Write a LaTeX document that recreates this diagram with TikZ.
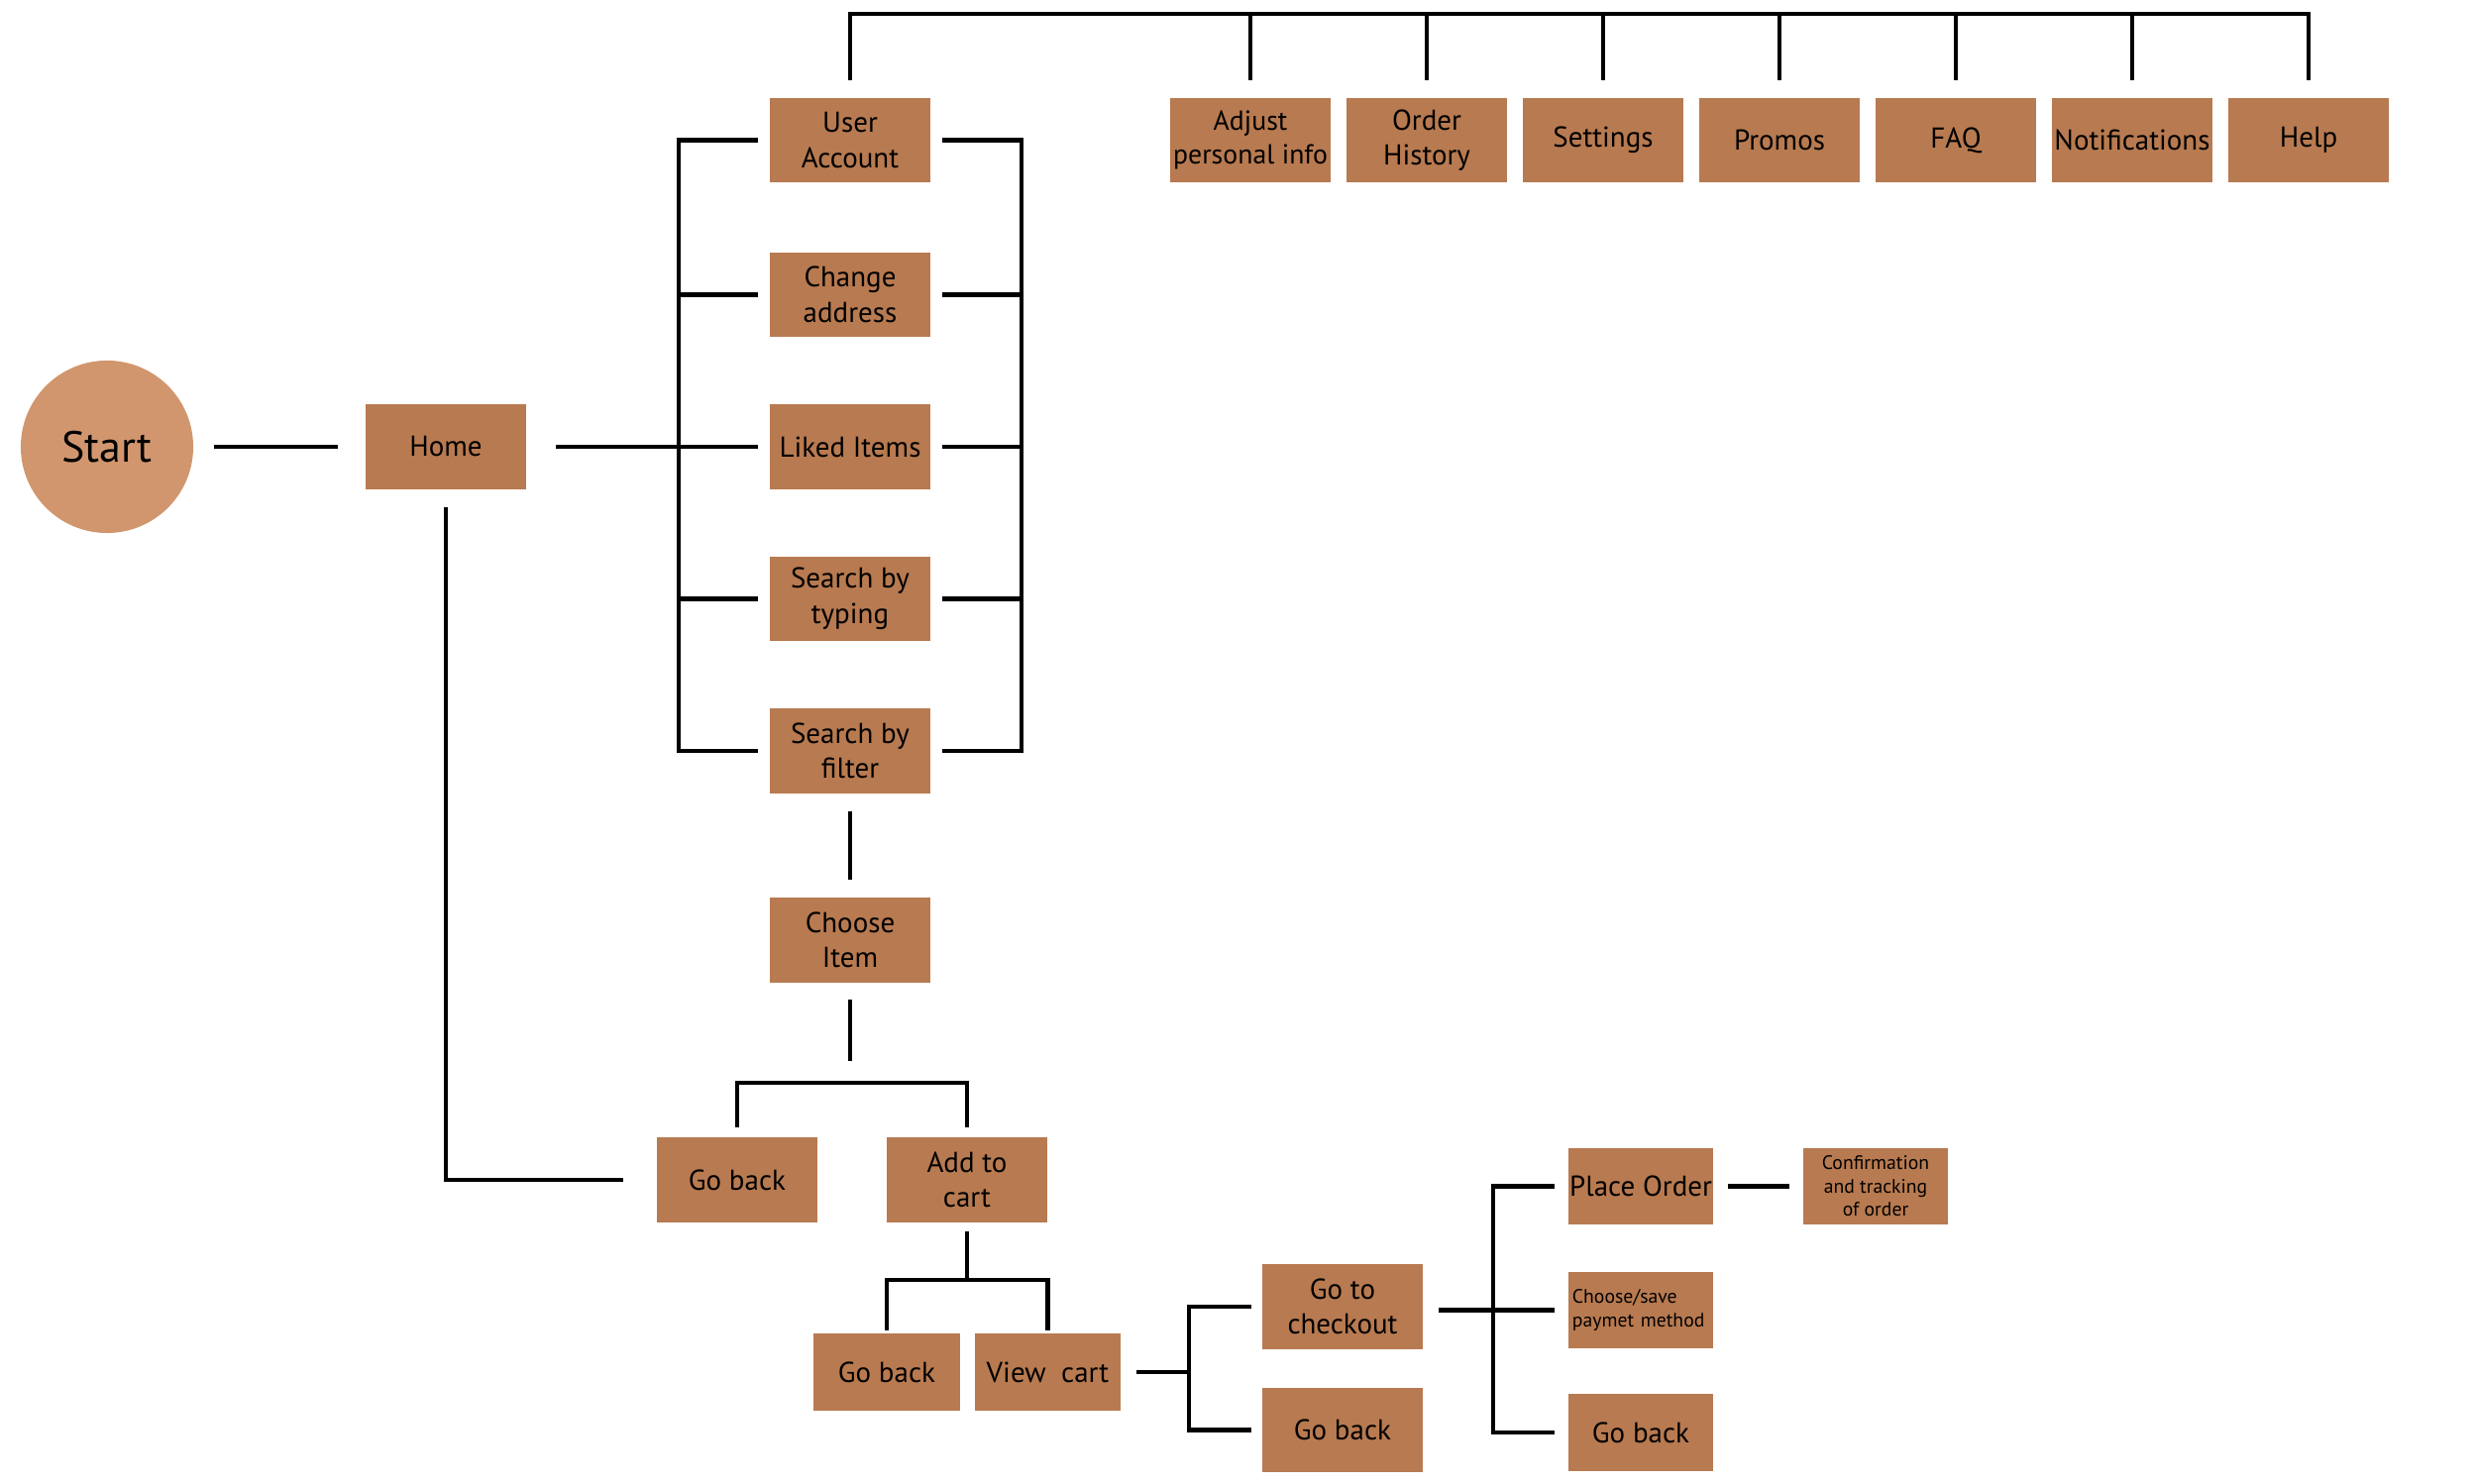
\documentclass[tikz,border=0pt]{standalone}
\usepackage{fontspec}
\setmainfont{PT Sans}
\usetikzlibrary{calc}
\definecolor{boxfill}{RGB}{184,122,80}
\definecolor{startfill}{RGB}{209,150,110}
\begin{document}
\begin{tikzpicture}[x=0.01cm,y=-0.01cm,
  conn/.style={line width=1.15pt, black},
  boxbase/.style={fill=boxfill, draw=none, inner sep=0pt, align=center, font=\fontsize{8.25}{10.1}\selectfont},
  bigbox/.style={boxbase, minimum width=1.62cm, minimum height=0.85cm},
  midbox/.style={boxbase, minimum width=1.47cm, minimum height=0.77cm},
  smallbox/.style={boxbase, minimum width=1.46cm, minimum height=0.77cm}]
\useasboundingbox (0,0) rectangle (2500,1498);

% nodes
\node[circle, fill=startfill, minimum size=1.74cm, inner sep=0pt, font=\fontsize{12.5}{15}\selectfont] (start) at (108,451) {Start};
\node[bigbox] (home) at (450,451) {Home};
\node[bigbox] (ua) at (858,141.5) {User\\Account};
\node[bigbox] (ca) at (858,297.5) {Change\\address};
\node[bigbox] (li) at (858,451) {Liked Items};
\node[bigbox] (st) at (858,604.5) {Search by\\typing};
\node[bigbox] (sf) at (858,758) {Search by\\filter};
\node[bigbox] (ci) at (858,949) {Choose\\Item};

\node[bigbox, font=\fontsize{7.9}{9.6}\selectfont] (adj) at (1262,141.5) {Adjust\\personal info};
\node[bigbox] (oh) at (1440,141.5) {Order\\History};
\node[bigbox] (set) at (1618,141.5) {Settings};
\node[bigbox] (pro) at (1796,141.5) {Promos};
\node[bigbox] (faq) at (1974,141.5) {FAQ};
\node[bigbox] (noti) at (2152,141.5) {Notifications};
\node[bigbox] (help) at (2330,141.5) {Help};

\node[bigbox] (gb1) at (744,1191) {Go back};
\node[bigbox] (atc) at (976,1191) {Add to\\cart};
\node[midbox] (gb2) at (895,1385) {Go back};
\node[midbox] (vc) at (1057.5,1385) {View~~cart};
\node[bigbox] (gtc) at (1355,1319) {Go to\\checkout};
\node[bigbox] (gb3) at (1355,1443.5) {Go back};
\node[smallbox] (po) at (1656,1197.5) {Place Order};
\node[smallbox, text width=1.38cm, align=left, font=\fontsize{5.6}{6.6}\selectfont] (pm) at (1656,1322.5) {Choose/save\\paymet method};
\node[smallbox] (gb4) at (1656,1446) {Go back};
\node[smallbox, font=\fontsize{5.6}{6.7}\selectfont] (conf) at (1893,1197.5) {Confirmation\\and tracking\\of order};

% junction coordinates
\coordinate (ty) at (0,14);
\coordinate (lx) at (685,0);
\coordinate (rx) at (1031,0);
\coordinate (cbar) at (0,1093);
\coordinate (abar) at (0,1292);
\coordinate (vbx) at (1200,0);
\coordinate (pbx) at (1507,0);

% connectors
\draw[conn, shorten <=0.2cm, shorten >=0.27cm] (start.east) -- (home.west);
\draw[conn] ([xshift=0.29cm]home.east) -- (lx |- home);
\draw[conn] ([xshift=-0.11cm]ua.west) -- (lx |- ua) -- (lx |- sf) -- ([xshift=-0.11cm]sf.west);
\foreach \n in {ca,li,st} \draw[conn] ([xshift=-0.11cm]\n.west) -- (lx |- \n);
\draw[conn] ([xshift=0.11cm]ua.east) -- (rx |- ua) -- (rx |- sf) -- ([xshift=0.11cm]sf.east);
\foreach \n in {ca,li,st} \draw[conn] ([xshift=0.11cm]\n.east) -- (rx |- \n);

\draw[conn] ([yshift=0.17cm]ua.north) -- (ua |- ty) -- (help |- ty) -- ([yshift=0.17cm]help.north);
\foreach \n in {adj,oh,set,pro,faq,noti} \draw[conn] (\n |- ty) -- ([yshift=0.17cm]\n.north);

\draw[conn, shorten <=0.18cm, shorten >=0.18cm] (sf) -- (ci);
\draw[conn] ([yshift=-0.17cm]ci.south) -- ([yshift=-0.79cm]ci.south);
\draw[conn] ([yshift=0.1cm]gb1.north) -- (gb1 |- cbar) -- (atc |- cbar) -- ([yshift=0.1cm]atc.north);
\draw[conn] ([yshift=-0.18cm]home.south) |- ([xshift=-0.33cm]gb1.west);

\draw[conn] ([yshift=-0.09cm]atc.south) -- (atc |- abar);
\draw[conn] ([yshift=0.03cm]gb2.north) -- (gb2 |- abar) -- (vc |- abar) -- ([yshift=0.03cm]vc.north);

\draw[conn] ([xshift=0.15cm]vc.east) -- (vbx |- vc);
\draw[conn] ([xshift=-0.1cm]gtc.west) -- (vbx |- gtc) -- (vbx |- gb3) -- ([xshift=-0.1cm]gb3.west);

\draw[conn] ($(gtc.east |- pm)+(0.155cm,0)$) -- ([xshift=-0.135cm]pm.west);
\draw[conn] ([xshift=-0.135cm]po.west) -- (pbx |- po) -- (pbx |- gb4) -- ([xshift=-0.135cm]gb4.west);
\draw[conn, shorten <=0.14cm, shorten >=0.136cm] (po) -- (conf);
\end{tikzpicture}
\end{document}
